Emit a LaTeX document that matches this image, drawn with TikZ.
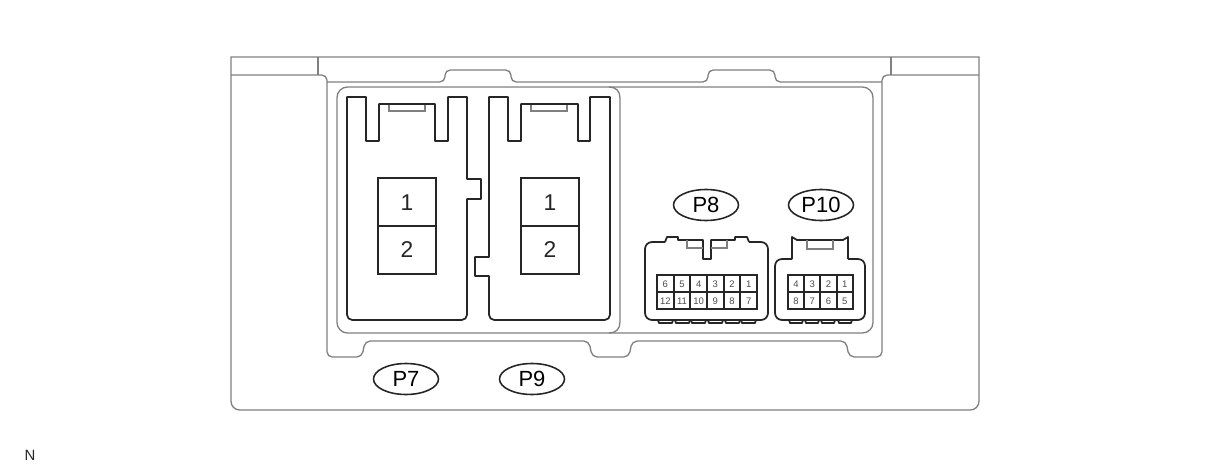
\documentclass[tikz,border=0pt]{standalone}
\usepackage{fontspec}
\setmainfont{Liberation Sans}
\usetikzlibrary{shapes.geometric}
\definecolor{casegray}{gray}{0.5}
\tikzstyle{casing}=[draw=casegray,line width=0.75pt]
\tikzstyle{body}=[draw=black!85,line width=1pt,line join=round]
\tikzstyle{hole}=[draw=casegray,line width=0.8pt]
\tikzstyle{plate}=[draw=black!85,line width=1pt]
\tikzstyle{tag}=[draw=black!85,line width=0.9pt,ellipse,minimum width=1.3cm,minimum height=0.62cm,inner sep=0pt,font=\fontsize{12.5}{14}\selectfont]
\tikzstyle{digit}=[font=\fontsize{13}{15}\selectfont,text=black!85]
\tikzstyle{pin}=[font=\fontsize{5.4}{6}\selectfont,text=black!70,inner sep=0pt]
\newcommand{\cgscale}{0.02}

\begin{document}
\begin{tikzpicture}[x=\cgscale cm, y=-\cgscale cm]
    \useasboundingbox (0,0) rectangle (1210,466);
    % First we draw the casing
    \path[casing] (231,57) -- (979,57) [rounded corners=5pt] -- (979,410) -- (231,410) [sharp corners] -- cycle;
    \path[casing] (318,57) -- (318,75);
    \path[casing] (891,57) -- (891,75);
    \path[casing] (231,75) [rounded corners=3pt] -- (327,75) -- (327,357) -- (362,357) -- (365,341) -- (589,341) -- (592,357) -- (629,357) -- (632,341) -- (846,341) -- (849,357) -- (882,357) -- (882,75) [sharp corners] -- (979,75);
    \path[casing] (327,82) [rounded corners=3pt] -- (445,82) -- (445,70) -- (511,70) -- (511,82) -- (708,82) -- (708,70) -- (775,70) -- (775,82) [sharp corners] -- (882,82);
    \path[casing,rounded corners=6pt] (337,87) rectangle (873,333);
    \path[casing] (609,87) .. controls (616,87) and (620,91) .. (620,98) -- (620,322) .. controls (620,329) and (616,333) .. (609,333);
    % Then the two large housings
    \path[body] (347,97) -- (366,97) -- (366,141) -- (379,141) -- (379,104) -- (435,104) -- (435,141) -- (448,141) -- (448,97) -- (467,97) -- (467,179) -- (481,179) -- (481,199) -- (467,199) [rounded corners=3pt] -- (467,320) -- (347,320) [sharp corners] -- cycle;
    \path[body] (489,97) -- (508,97) -- (508,141) -- (521,141) -- (521,104) -- (578,104) -- (578,141) -- (590,141) -- (590,97) -- (610,97) [rounded corners=3pt] -- (610,320) -- (489,320) [sharp corners] -- (489,276) -- (475,276) -- (475,257) -- (489,257) -- cycle;
    \foreach \xa/\xb in {389/425, 531/567}
        \path[hole] (\xa,105) -- (\xa,111) -- (\xb,111) -- (\xb,105);
    % Terminal plates of the large housings
    \foreach \xa/\name in {378/a, 521/b} {
        \path[plate] (\xa,178) rectangle (\xa+58,274);
        \path[plate] (\xa,226) -- (\xa+58,226);
        \node[digit] (one\name) at (\xa+29,203) {1};
        \node[digit] (two\name) at (\xa+29,250) {2};
    }
    % The two small connectors
    \path[body] (665,242) -- (667,237) -- (678,237) -- (678,240) -- (703,240) -- (703,259) -- (711,259) -- (711,240) -- (735,240) -- (735,237) -- (747,237) -- (749,242);
    \path[body,rounded corners=4pt] (749,242) -- (768,242) -- (768,320) -- (645,320) -- (645,242) -- (665,242);
    \path[body] (792,259) -- (792,237) -- (797,240) -- (843,240) -- (848,237) -- (848,259);
    \path[body,rounded corners=4pt] (792,259) -- (775,259) -- (775,320) -- (865,320) -- (865,259) -- (848,259);
    \path[hole] (687,240) -- (687,248) -- (703,248);
    \path[hole] (711,248) -- (727,248) -- (727,240);
    \path[hole] (807,240) -- (807,249) -- (833,249) -- (833,240);
    % Bottom teeth
    \foreach \x in {658,675,691,708,725,741}
        \path[body] (\x,320) -- (\x+1,323) -- (\x+14,323) -- (\x+15,320);
    \foreach \x in {789,805,821,838}
        \path[body] (\x,320) -- (\x+1,323) -- (\x+13,323) -- (\x+14,320);
    % Pin grids with their numbers
    \path[plate,line width=0.8pt] (657,275) rectangle (757,309);
    \path[plate,line width=0.8pt] (657,292) -- (757,292);
    \foreach \col/\up/\down in {0/6/12, 1/5/11, 2/4/10, 3/3/9, 4/2/8, 5/1/7} {
        \node[pin] (pu\up) at (665.3+16.67*\col,284) {\up};
        \node[pin] (pd\down) at (665.3+16.67*\col,301) {\down};
    }
    \foreach \x in {674,690,707,724,740}
        \path[plate,line width=0.8pt] (\x,275) -- (\x,309);
    \path[plate,line width=0.8pt] (788,275) rectangle (853,309);
    \path[plate,line width=0.8pt] (788,292) -- (853,292);
    \foreach \col/\up/\down in {0/4/8, 1/3/7, 2/2/6, 3/1/5} {
        \node[pin] (qu\up) at (796.1+16.25*\col,284) {\up};
        \node[pin] (qd\down) at (796.1+16.25*\col,301) {\down};
    }
    \foreach \x in {804,820,837}
        \path[plate,line width=0.8pt] (\x,275) -- (\x,309);
    % Finally the connector tags
    \foreach \pos/\name in {{(406,379)/P7}, {(532,379)/P9}, {(706,205)/P8}, {(821,205)/P10}}
        \node[tag] (\name) at \pos {\name};
    \node[font=\fontsize{8.5}{10}\selectfont,text=black!85] (note) at (30,455) {N};
\end{tikzpicture}
\end{document}
